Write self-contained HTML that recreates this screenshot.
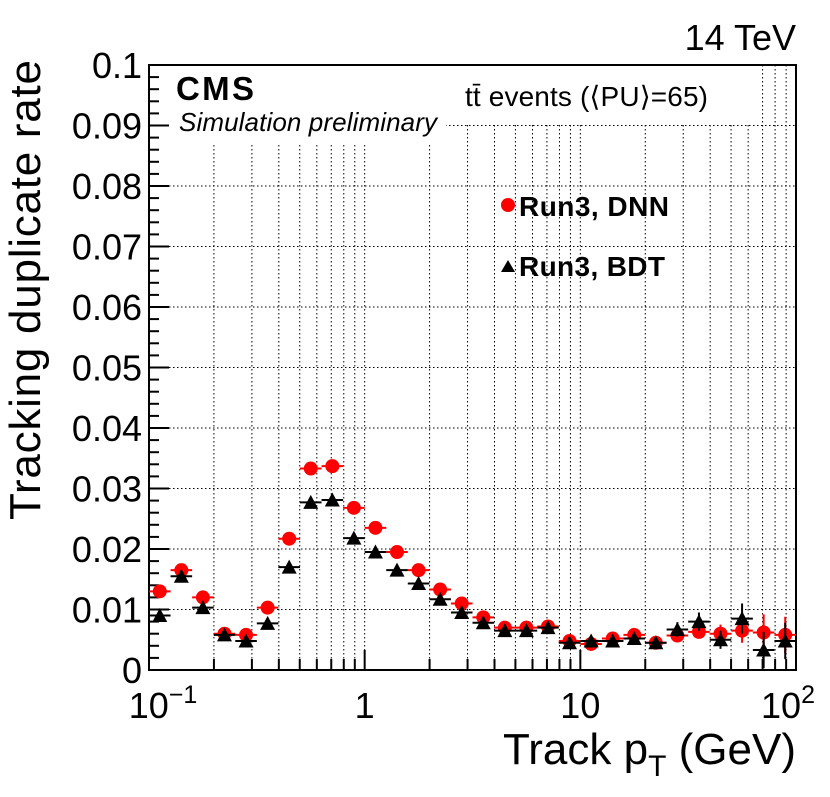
<!DOCTYPE html>
<html><head><meta charset="utf-8"><style>
body{margin:0;background:#fff;}
svg{display:block;font-family:"Liberation Sans",Arial,sans-serif;}
</style></head><body>
<svg id="c" width="830" height="797" viewBox="0 0 830 797">
<g id="grid"></g>
<rect x="150" y="66" width="607" height="58" fill="#fff"/>
<rect x="150" y="66" width="296" height="78" fill="#fff"/>
<g id="axes"></g>
<g id="marks"></g>
<text x="176" y="100" font-size="33" font-weight="bold" textLength="78">CMS</text>
<text x="179" y="131" font-size="26" font-style="italic" textLength="258">Simulation preliminary</text>
<text x="465" y="106" font-size="28" textLength="243">tt̄ events (⟨PU⟩=65)</text>
<text x="796" y="50" font-size="36" text-anchor="end">14 TeV</text>
<g>
<circle cx="508" cy="205" r="7" fill="#f00"/>
<text x="519" y="216" font-size="28" font-weight="bold" textLength="150">Run3, DNN</text>
<path d="M501,272 L508,260 L515,272 Z" fill="#000"/>
<text x="519" y="276" font-size="28" font-weight="bold" textLength="146">Run3, BDT</text>
</g>
<text transform="translate(40,290) rotate(-90)" font-size="44" text-anchor="middle" textLength="460">Tracking duplicate rate</text>
<text x="796" y="764" font-size="44" text-anchor="end">Track p<tspan font-size="30" dy="12">T</tspan><tspan dy="-12"> (GeV)</tspan></text>
</svg>
<script>
const dnnValues=[0.013,0.0165,0.012,0.006,0.0058,0.0103,0.0217,0.0333,0.0337,0.0268,0.0235,0.0195,0.0165,0.0133,0.011,0.0087,0.007,0.007,0.0072,0.0048,0.0043,0.0052,0.0058,0.0045,0.0057,0.0063,0.006,0.0065,0.0062,0.0058];
const bdtValues=[0.009,0.0155,0.0103,0.0058,0.0048,0.0077,0.017,0.0277,0.0281,0.0218,0.0195,0.0165,0.0143,0.0117,0.0095,0.0078,0.0065,0.0065,0.007,0.0045,0.0048,0.0048,0.0052,0.0045,0.0067,0.008,0.005,0.0085,0.0033,0.0048];
const dnnErrors=[0.0003,0.0003,0.0003,0.0003,0.0003,0.0003,0.0003,0.0003,0.0003,0.0003,0.0003,0.0003,0.0003,0.0003,0.0003,0.0003,0.0003,0.0003,0.0003,0.0004,0.0004,0.0004,0.0005,0.0006,0.0008,0.001,0.0015,0.002,0.003,0.003];
const bdtErrors=[0.0003,0.0003,0.0003,0.0003,0.0003,0.0003,0.0003,0.0003,0.0003,0.0003,0.0003,0.0003,0.0003,0.0003,0.0003,0.0003,0.0003,0.0003,0.0003,0.0004,0.0004,0.0004,0.0005,0.0006,0.0012,0.0015,0.0015,0.0025,0.003,0.003];
const yTicks=[0,0.01,0.02,0.03,0.04,0.05,0.06,0.07,0.08,0.09,0.1];
const yTickLabels=["0","0.01","0.02","0.03","0.04","0.05","0.06","0.07","0.08","0.09","0.1"];
const xDecades=[0.1,1,10,100];
const NS='http://www.w3.org/2000/svg';
const X0=149,X1=796,Y0=670,Y1=65;
const xs=v=>X0+(Math.log10(v)+1)/3*(X1-X0);
const ys=v=>Y0-v/0.1*(Y0-Y1);
function el(t,a,p){const e=document.createElementNS(NS,t);for(const k in a)e.setAttribute(k,a[k]);p.appendChild(e);return e;}
const grid=document.getElementById('grid'),axes=document.getElementById('axes'),marks=document.getElementById('marks');
for(let d=0;d<3;d++)for(let m=1;m<=9;m++){const v=xDecades[d]*m;const x=xs(v);if(m>1||d>0){
const g=el('line',{x1:x,x2:x,y1:Y1,y2:Y0,stroke:'#000','stroke-width':1,'stroke-dasharray':'1.5,2.5'},grid);
}
const t=el('line',{x1:x,x2:x,y1:Y0,y2:Y0-(m==1?20:11),stroke:'#000','stroke-width':2},axes);
}
yTicks.forEach((v,i)=>{const y=ys(v);
if(i>0&&i<yTicks.length-1){const g=el('line',{x1:X0,x2:X1,y1:y,y2:y,stroke:'#000','stroke-width':1,'stroke-dasharray':'1.5,2.5'},grid);
}
const t=el('line',{x1:X0,x2:X0+20,y1:y,y2:y,stroke:'#000','stroke-width':2},axes);

const l=el('text',{x:142,y:y+13,'font-size':36,'text-anchor':'end'},axes);l.textContent=yTickLabels[i];
});
for(let v=0.002;v<0.1;v+=0.002){if(Math.abs(v*100-Math.round(v*100))<1e-6)continue;const y=ys(v);
const t=el('line',{x1:X0,x2:X0+10,y1:y,y2:y,stroke:'#000','stroke-width':2},axes);
}
const fr=el('rect',{x:X0,y:Y1,width:X1-X0,height:Y0-Y1,fill:'none',stroke:'#000','stroke-width':2},axes);

const xl=[['10','−1'],['1',''],['10',''],['10','2']];
xDecades.forEach((v,i)=>{const t=el('text',{x:xs(v)+(i==0?14:i==3?-8:0),y:718,'font-size':36,'text-anchor':'middle'},axes);
t.textContent=xl[i][0];if(xl[i][1]){const s=el('tspan',{dy:-15,'font-size':25},t);s.textContent=xl[i][1];}
});
function draw(vals,errs,color,shape,name){vals.forEach((v,i)=>{
const lo=0.1*Math.pow(10,i/10),hi=0.1*Math.pow(10,(i+1)/10),c=0.1*Math.pow(10,(i+0.5)/10);
const g=el('g',{},marks);
el('line',{x1:xs(lo),x2:xs(hi),y1:ys(v),y2:ys(v),stroke:color,'stroke-width':2},g);
el('line',{x1:xs(c),x2:xs(c),y1:ys(v-errs[i]),y2:ys(v+errs[i]),stroke:color,'stroke-width':2},g);
const x=xs(c),y=ys(v);
if(shape=='c')el('circle',{cx:x,cy:y,r:7,fill:color},g);
else el('path',{d:`M${x-7.5},${y+6.5} L${x},${y-7.5} L${x+7.5},${y+6.5} Z`,fill:color},g);});}
draw(dnnValues,dnnErrors,'#f00','c','dnn');
draw(bdtValues,bdtErrors,'#000','t','bdt');
</script>
</body></html>
